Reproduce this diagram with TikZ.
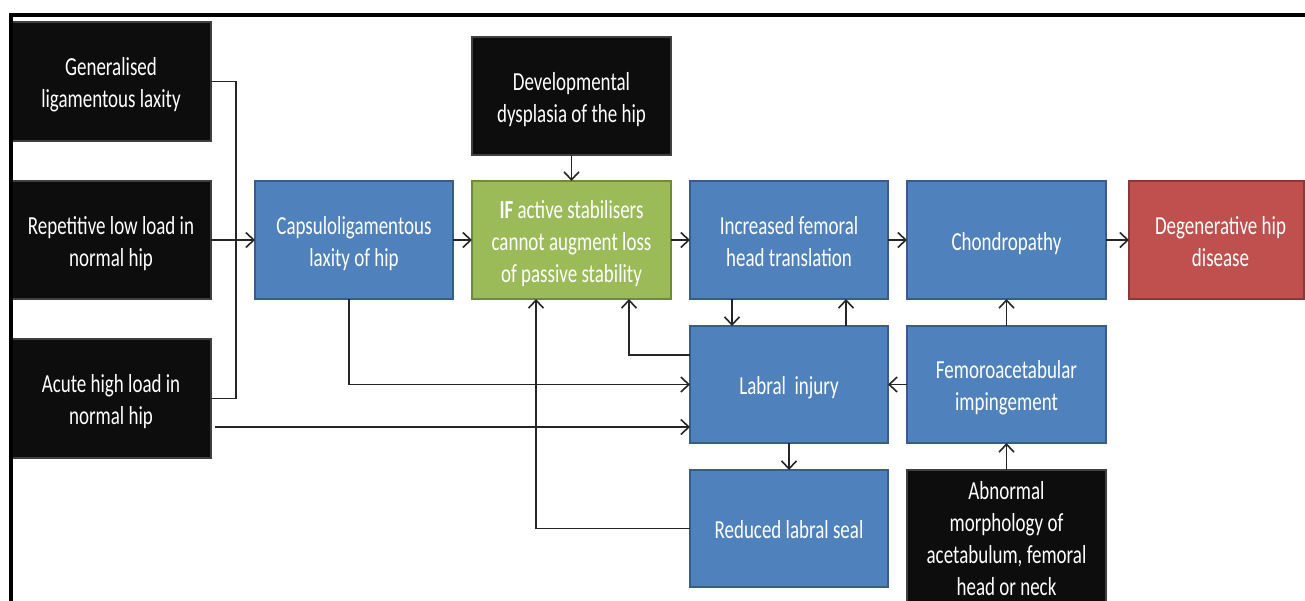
\documentclass[tikz,border=0pt]{standalone}
\usepackage{fontspec}
\usepackage{graphicx}
\setmainfont{Carlito}
\usetikzlibrary{arrows.meta}
\definecolor{bluefill}{HTML}{4F81BD}
\definecolor{blueline}{HTML}{385D8A}
\definecolor{greenfill}{HTML}{9BBB59}
\definecolor{greenline}{HTML}{71893F}
\definecolor{redfill}{HTML}{C0504D}
\definecolor{redline}{HTML}{8C3836}
\definecolor{blackfill}{HTML}{0D0D0D}
\definecolor{connc}{HTML}{262626}
\newcommand\tx[1]{\raisebox{-4pt}[\height][\depth]{\scalebox{0.73}[1]{\begin{tabular}{@{}c@{}}#1\end{tabular}}}}
\begin{document}
\begin{tikzpicture}[x=1pt,y=-1pt,
  box/.style={rectangle, inner sep=0pt, outer sep=0pt, line width=1.6pt, text=white,
    font=\fontsize{26}{32}\selectfont, align=center},
  blackbox/.style={box, fill=blackfill, draw=black!75},
  bluebox/.style={box, fill=bluefill, draw=blueline},
  greenbox/.style={box, fill=greenfill, draw=greenline},
  redbox/.style={box, fill=redfill, draw=redline},
  conn/.style={draw=connc, line width=1.8pt},
  arr/.style={conn, -{Straight Barb[length=8pt,width=15pt,line width=1.6pt]}},
]
\useasboundingbox (0,0) rectangle (1305,600);
\clip (0,0) rectangle (1305,600);
\fill[white] (0,0) rectangle (1305,600);

% boxes
\node[blackbox, minimum width=200pt, minimum height=119pt] (gen) at (111,81.5) {\tx{Generalised\\ligamentous laxity}};
\node[blackbox, minimum width=200pt, minimum height=118pt] (rep) at (111,240) {\tx{Repetitive low load in\\normal hip}};
\node[blackbox, minimum width=200pt, minimum height=119pt] (acu) at (111,398.5) {\tx{Acute high load in\\normal hip}};
\node[bluebox, minimum width=198pt, minimum height=118pt] (cap) at (354,240) {\tx{Capsuloligamentous\\laxity of hip}};
\node[greenbox, minimum width=199pt, minimum height=118pt] (ifb) at (571.5,240) {\tx{\textbf{IF} active stabilisers\\cannot augment loss\\of passive stability}};
\node[blackbox, minimum width=199pt, minimum height=118pt] (dev) at (571.5,96) {\tx{Developmental\\dysplasia of the hip}};
\node[bluebox, minimum width=198pt, minimum height=118pt] (inc) at (789,240) {\tx{Increased femoral\\head translation}};
\node[bluebox, minimum width=199pt, minimum height=118pt] (cho) at (1006.5,240) {\tx{Chondropathy}};
\node[redbox, minimum width=175pt, minimum height=118pt] (deg) at (1216.5,240) {\hspace*{8pt}\tx{Degenerative hip\\disease}};
\node[bluebox, minimum width=198pt, minimum height=117pt] (lab) at (789,384.5) {\tx{Labral~ injury}};
\node[bluebox, minimum width=198pt, minimum height=117pt] (red) at (789,528.5) {\tx{Reduced labral seal}};
\node[bluebox, minimum width=199pt, minimum height=117pt] (fem) at (1006.5,384.5) {\tx{Femoroacetabular\\impingement}};
\node[blackbox, minimum width=199pt, minimum height=135pt] (abn) at (1006.5,537.5) {\tx{Abnormal\\morphology of\\acetabulum, femoral\\head or neck}};

% connectors
\draw[conn] (gen.east) -- ++(25,0) |- (acu.east);
\draw[arr] (rep.east) -- (cap.west);
\draw[arr] ([xshift=-5pt]cap.south) |- (lab.west);
\coordinate (acuout) at (215,427);
\draw[arr] (acuout) -- (acuout -| lab.west);
\draw[arr] (dev.south) -- (ifb.north);
\draw[arr] (cap.east) -- (ifb.west);
\draw[arr] (ifb.east) -- (inc.west);
\draw[arr] (inc.east) -- (cho.west);
\draw[arr] (cho.east) -- (deg.west);
\draw[arr] ([xshift=-57pt]inc.south) -- ([xshift=-57pt]lab.north);
\draw[arr] ([xshift=57pt]lab.north) -- ([xshift=57pt]inc.south);
\draw[arr] ([yshift=29.5pt]lab.west) -| ([xshift=57.5pt]ifb.south);
\draw[arr] (red.west) -| ([xshift=-35.5pt]ifb.south);
\draw[arr] (lab.south) -- (red.north);
\draw[arr] (fem.west) -- (lab.east);
\draw[arr] (fem.north) -- (cho.south);
\draw[arr] (abn.north) -- (fem.south);

% frame
\draw[line width=4pt, black] (11,602) -- (11,15) -- (1306,15);
\end{tikzpicture}
\end{document}
